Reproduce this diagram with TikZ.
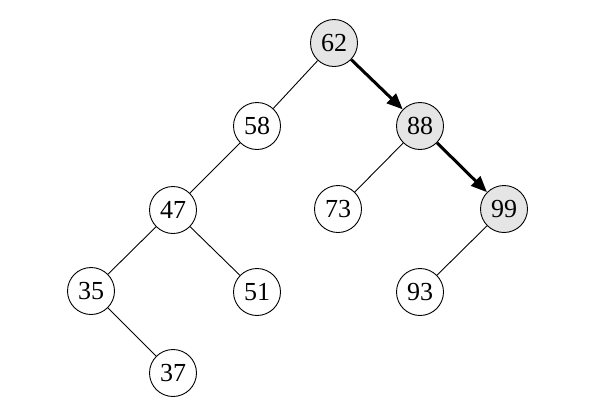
\documentclass[tikz,border=0pt]{standalone}
\usepackage{fontspec}
\setmainfont{Liberation Serif}
\usetikzlibrary{arrows.meta}
\begin{document}
\begin{tikzpicture}[x=1pt,y=-1pt,
  tn/.style={circle,draw,line width=0.9pt,minimum size=47pt,inner sep=0pt,font=\fontsize{26}{26}\selectfont,fill=white},
  hn/.style={tn,fill=gray!20},
  edge/.style={line width=0.9pt},
  path/.style={line width=3pt,-{Triangle[length=16pt,width=13pt]}}]
\useasboundingbox (0,0) rectangle (605,413);
\node[hn] (n62) at (334,43) {62};
\node[tn] (n58) at (257,126) {58};
\node[hn] (n88) at (420,126) {88};
\node[tn] (n47) at (173,210) {47};
\node[tn] (n73) at (338,209) {73};
\node[hn] (n99) at (504,209) {99};
\node[tn] (n35) at (91,291) {35};
\node[tn] (n51) at (257,292) {51};
\node[tn] (n93) at (420,292) {93};
\node[tn] (n37) at (173,373) {37};
\draw[edge] (n62) -- (n58);
\draw[edge] (n58) -- (n47);
\draw[edge] (n47) -- (n35);
\draw[edge] (n47) -- (n51);
\draw[edge] (n35) -- (n37);
\draw[edge] (n88) -- (n73);
\draw[edge] (n99) -- (n93);
\draw[path] (n62) -- (n88);
\draw[path] (n88) -- (n99);
\end{tikzpicture}
\end{document}
